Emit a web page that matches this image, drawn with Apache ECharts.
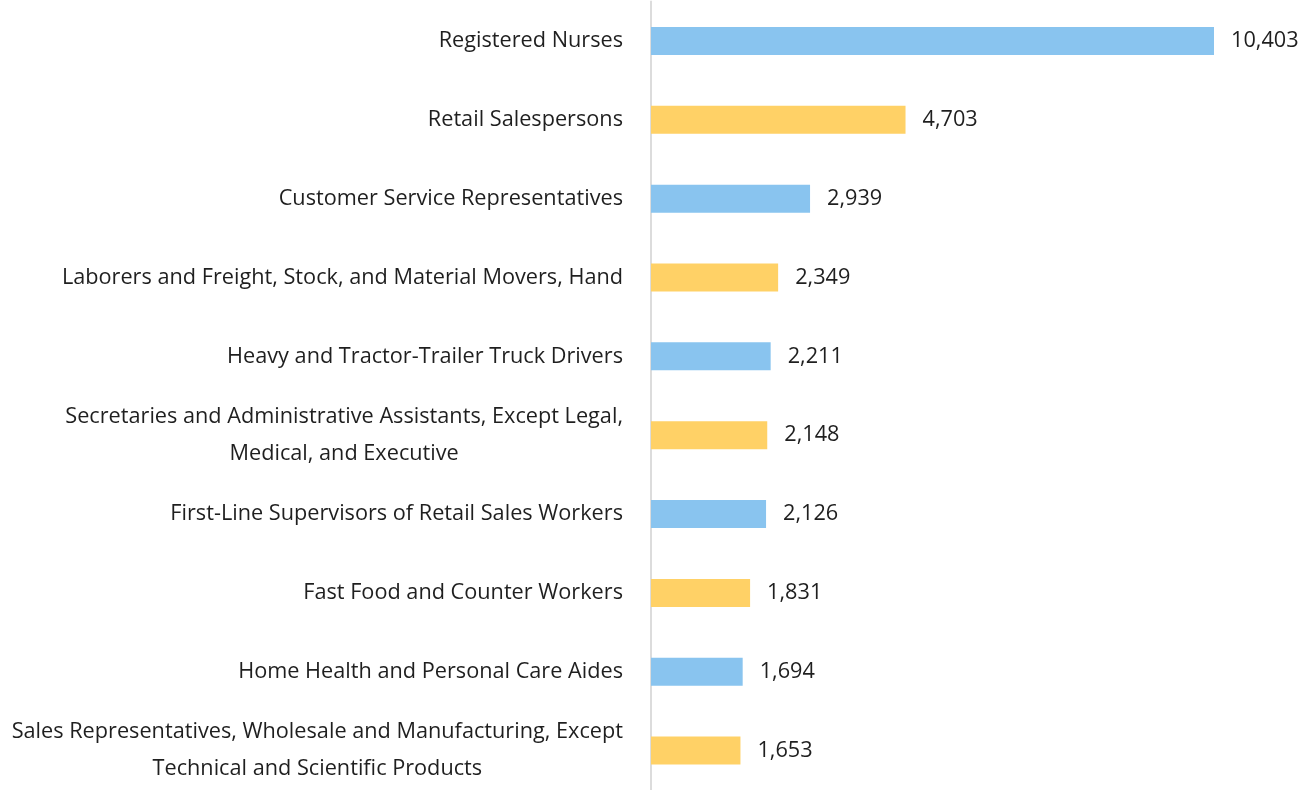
<!DOCTYPE html>
<html>
<head>
<meta charset="utf-8">
<script src="https://cdn.jsdelivr.net/npm/echarts@6/dist/echarts.min.js"></script>
<style>
html,body{margin:0;padding:0;background:#fff;}
#chart{width:1315px;height:790px;}
</style>
</head>
<body>
<div id="chart"></div>
<script>
const categories = [
  "Registered Nurses",
  "Retail Salespersons",
  "Customer Service Representatives",
  "Laborers and Freight, Stock, and Material Movers, Hand",
  "Heavy and Tractor-Trailer Truck Drivers",
  "Secretaries and Administrative Assistants, Except Legal,\nMedical, and Executive",
  "First-Line Supervisors of Retail Sales Workers",
  "Fast Food and Counter Workers",
  "Home Health and Personal Care Aides",
  "Sales Representatives, Wholesale and Manufacturing, Except\nTechnical and Scientific Products"
];
const values = [10403, 4703, 2939, 2349, 2211, 2148, 2126, 1831, 1694, 1653];
const palette = ["#89C4EF", "#FFD166"];

const FONT = "Open Sans";
const FS = 21.7;
const chart = echarts.init(document.getElementById('chart'));
chart.setOption({
  animation: false,
  grid: {left: 651, width: 563, top: 1.5, height: 791, containLabel: false},
  xAxis: {
    type: 'value', min: 0, max: 10403, show: false
  },
  yAxis: {
    type: 'category', data: categories, inverse: true,
    axisLine: {show: true, lineStyle: {color: '#dcdcdc', width: 2}},
    axisTick: {show: false},
    axisLabel: {
      margin: 28,
      align: 'right',
      formatter: function (v) {
        return v.split('\n').map(s => '{c|' + s + '}').join('\n');
      },
      rich: {
        c: {align: 'center', fontFamily: FONT, fontSize: FS, color: '#1f1f1f', lineHeight: 37}
      }
    }
  },
  series: [{
    type: 'bar',
    data: values,
    barWidth: 28,
    itemStyle: {color: p => palette[p.dataIndex % 2]},
    label: {
      show: true, position: 'right', distance: 17,
      fontFamily: FONT, fontSize: FS, color: '#1f1f1f',
      formatter: p => p.value.toLocaleString('en-US')
    }
  }]
});
</script>
</body>
</html>
